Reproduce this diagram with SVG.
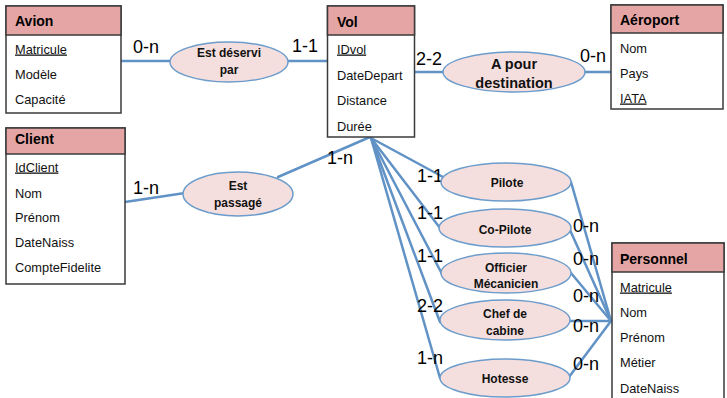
<svg xmlns="http://www.w3.org/2000/svg" width="727" height="398" viewBox="0 0 727 398">
<style>
.box{fill:#ffffff;stroke:#3a3a3a;stroke-width:1.5}
.hdr{fill:#E4A5A4;stroke:#3a3a3a;stroke-width:1.5}
.ht{font-family:"Liberation Sans",Arial,sans-serif;font-weight:bold;font-size:14px;fill:#000}
.at{font-family:"Liberation Sans",Arial,sans-serif;font-size:12.8px;fill:#111}
.u{text-decoration:underline}
.ell{fill:#F5DFDE;stroke:#6C9CCB;stroke-width:1.5}
.et{font-family:"Liberation Sans",Arial,sans-serif;font-weight:bold;font-size:12px;fill:#111;text-anchor:middle}
.lab{font-family:"Liberation Sans",Arial,sans-serif;font-size:18px;fill:#000}
.ln{stroke:#6192C6;stroke-width:2.5;fill:none;stroke-linecap:round}
</style>
<g id="connectors">
<line class="ln" x1="121" y1="61" x2="327" y2="61"/>
<line class="ln" x1="415" y1="72" x2="611" y2="72"/>
<line class="ln" x1="125" y1="202" x2="185" y2="193"/>
<line class="ln" x1="278" y1="177" x2="370" y2="137"/>
<line class="ln" x1="371" y1="138" x2="443" y2="177"/>
<line class="ln" x1="371" y1="138" x2="440" y2="228"/>
<line class="ln" x1="371" y1="138" x2="442" y2="274"/>
<line class="ln" x1="371" y1="138" x2="440" y2="322"/>
<line class="ln" x1="371" y1="138" x2="440" y2="378"/>
<line class="ln" x1="571" y1="182" x2="611" y2="321"/>
<line class="ln" x1="570" y1="230" x2="611" y2="321"/>
<line class="ln" x1="571" y1="273" x2="611" y2="321"/>
<line class="ln" x1="569" y1="321" x2="611" y2="321"/>
<line class="ln" x1="569" y1="377" x2="611" y2="321"/>
<text class="lab" x="133" y="52.5">0-n</text>
<text class="lab" x="292" y="51.5">1-1</text>
<text class="lab" x="416" y="64.5">2-2</text>
<text class="lab" x="580" y="61.5">0-n</text>
<text class="lab" x="133" y="193.5">1-n</text>
<text class="lab" x="327" y="163.5">1-n</text>
<text class="lab" x="417" y="181.5">1-1</text>
<text class="lab" x="417" y="218.5">1-1</text>
<text class="lab" x="417" y="261.5">1-1</text>
<text class="lab" x="417" y="311.5">2-2</text>
<text class="lab" x="417" y="363.5">1-n</text>
<text class="lab" x="573" y="231.5">0-n</text>
<text class="lab" x="573" y="264.5">0-n</text>
<text class="lab" x="573" y="301.5">0-n</text>
<text class="lab" x="573" y="331.5">0-n</text>
<text class="lab" x="573" y="369.5">0-n</text>
</g>
<g id="avion">
<rect class="box" x="6" y="6" width="115" height="107"/>
<rect class="hdr" x="6" y="6" width="115" height="29"/>
<text class="ht" x="15" y="26">Avion</text>
<text class="at u" x="15" y="53.5">Matricule</text>
<text class="at" x="15" y="78.5">Modèle</text>
<text class="at" x="15" y="103.5">Capacité</text>
</g>
<g id="vol">
<rect class="box" x="327.5" y="6" width="87" height="131"/>
<rect class="hdr" x="327.5" y="6" width="87" height="29"/>
<text class="ht" x="337" y="27">Vol</text>
<text class="at u" x="337" y="53.5">IDvol</text>
<text class="at" x="337" y="79.5">DateDepart</text>
<text class="at" x="337" y="104.5">Distance</text>
<text class="at" x="337" y="130.5">Durée</text>
</g>
<g id="aeroport">
<rect class="box" x="611" y="5" width="112" height="104"/>
<rect class="hdr" x="611" y="5" width="112" height="28"/>
<text class="ht" x="620" y="25">Aéroport</text>
<text class="at" x="620" y="52.5">Nom</text>
<text class="at" x="620" y="77.5">Pays</text>
<text class="at u" x="620" y="102.5">IATA</text>
</g>
<g id="client">
<rect class="box" x="6" y="128" width="119" height="156"/>
<rect class="hdr" x="6" y="128" width="119" height="26"/>
<text class="ht" x="15" y="144">Client</text>
<text class="at u" x="15" y="171.5">IdClient</text>
<text class="at" x="15" y="197.5">Nom</text>
<text class="at" x="15" y="221.5">Prénom</text>
<text class="at" x="15" y="246.5">DateNaiss</text>
<text class="at" x="15" y="271.5">CompteFidelite</text>
</g>
<g id="personnel">
<rect class="box" x="612" y="243" width="112" height="170"/>
<rect class="hdr" x="612" y="243" width="112" height="29"/>
<text class="ht" x="620" y="264">Personnel</text>
<text class="at u" x="620" y="291.5">Matricule</text>
<text class="at" x="620" y="316.5">Nom</text>
<text class="at" x="620" y="341.5">Prénom</text>
<text class="at" x="620" y="366.5">Métier</text>
<text class="at" x="620" y="392.5">DateNaiss</text>
</g>
<g id="est-deservi-par">
<ellipse class="ell" cx="229" cy="62" rx="59" ry="20"/>
<text class="et" x="229" y="57">Est déservi</text>
<text class="et" x="229" y="74">par</text>
</g>
<g id="a-pour-destination">
<ellipse class="ell" cx="514" cy="72" rx="71" ry="20"/>
<text class="et" x="514" y="69" style="font-size:14.5px">A pour</text>
<text class="et" x="514" y="88" style="font-size:14.5px">destination</text>
</g>
<g id="est-passage">
<ellipse class="ell" cx="238" cy="194" rx="55" ry="22"/>
<text class="et" x="238" y="190">Est</text>
<text class="et" x="238" y="207">passagé</text>
</g>
<g id="pilote">
<ellipse class="ell" cx="506" cy="182" rx="65" ry="19"/>
<text class="et" x="507" y="187">Pilote</text>
</g>
<g id="co-pilote">
<ellipse class="ell" cx="505" cy="228" rx="66" ry="19"/>
<text class="et" x="505" y="234">Co-Pilote</text>
</g>
<g id="officier-mecanicien">
<ellipse class="ell" cx="506" cy="273" rx="65" ry="20"/>
<text class="et" x="506" y="272">Officier</text>
<text class="et" x="506" y="288">Mécanicien</text>
</g>
<g id="chef-de-cabine">
<ellipse class="ell" cx="505" cy="320" rx="65" ry="20"/>
<text class="et" x="505" y="318">Chef de</text>
<text class="et" x="505" y="335">cabine</text>
</g>
<g id="hotesse">
<ellipse class="ell" cx="505" cy="378" rx="65" ry="19"/>
<text class="et" x="505" y="383">Hotesse</text>
</g>
</svg>
